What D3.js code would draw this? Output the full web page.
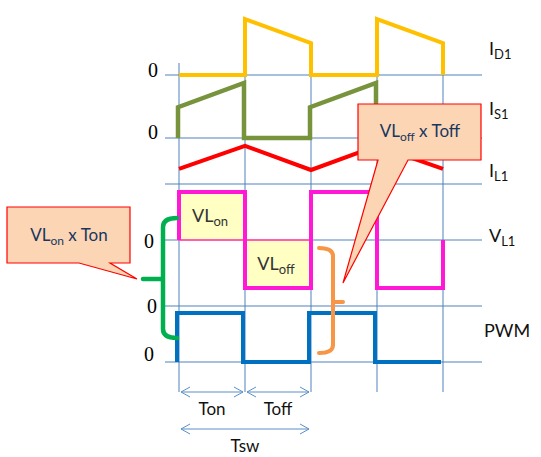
<!DOCTYPE html>
<html>
<head>
<meta charset="utf-8">
<script src="https://cdn.jsdelivr.net/npm/d3@7"></script>
<style>
    body { margin: 0; background: #fff; }
    text { font-family: Lato, "Noto Sans", sans-serif; }
</style>
</head>
<body>
<svg id="chart" width="541" height="457"></svg>
<script>
// Data ---------------------------------------------------------------
// time in half periods (0 -> 4 = two switching periods)
let gridTimes = [0, 1, 2, 3, 4];

// waveforms as [time, normalised level]
let id1Data = [[0, 0], [1, 0], [1, 1], [2, 0.57], [2, 0], [3, 0], [3, 1], [4, 0.57], [4, 0]];
let is1Data = [[0, 0], [0, 0.56], [1, 1], [1, 0], [2, 0], [2, 0.56], [3, 1], [3, 0], [4, 0]];
let il1Data = [[0, 0.27], [1, 0.68], [2, 0.25], [3, 0.68], [4, 0.27]];
let vl1Data = [[0, 0], [0, 1], [1, 1], [1, -1], [2, -1], [2, 1], [3, 1], [3, -1], [4, -1], [4, 0]];
let pwmData = [[0, 0], [0, 1], [1, 1], [1, 0], [2, 0], [2, 1], [3, 1], [3, 0], [4, 0]];

let traceNames = [["I", "D1"], ["I", "S1"], ["I", "L1"], ["V", "L1"], ["PWM", ""]];
let zeroLabels = ["0", "0", "0", "0", "0"];

// VL areas (time from, time to, level from, level to)
let vlAreas = [[0, 1, 0, 1, "on"], [1, 2, -1, 0, "off"]];
// time spans under the chart
let spanNames = ["Ton", "Toff", "Tsw"];
let spanTimes = [[0, 1], [1, 2], [0, 2]];
let calloutTexts = [["VL", "on", " x Ton"], ["VL", "off", " x Toff"]];

// Layout -------------------------------------------------------------
let svg = d3.select("#chart");
let x = d3.scaleLinear().domain([0, 4]).range([179, 443]);

// each trace gets its own zero line and amplitude
let traces = [
    { data: id1Data, color: "#ffc000", zero: 75, amp: 56, width: 4, labelY: 55, dx: 0 },
    { data: is1Data, color: "#77933c", zero: 138, amp: 55, width: 4.5, labelY: 115, dx: -1 },
    { data: il1Data, color: "#ff0000", zero: 184, amp: 56, width: 4, labelY: 177, dx: 0 },
    { data: vl1Data, color: "#ff19d6", zero: 240, amp: 48, width: 4, labelY: 242, dx: 0 },
    { data: pwmData, color: "#0070c0", zero: 362, amp: 49, width: 4, labelY: 337, dx: -2 }
];
traces.forEach(t => {
    t.y = d3.scaleLinear().domain([0, 1]).range([t.zero, t.zero - t.amp]);
});

let rowLines = [75, 138, 184, 240, 306, 362];
let zeroPos = [[153, 77], [153, 139], [149, 248], [152, 313], [149, 361]];
let gridColor = "#4f81bd";

// Grid ---
svg.append("g").selectAll("line")
    .data(gridTimes)
    .enter().append("line")
    .attr("x1", d => x(d)).attr("x2", d => x(d))
    .attr("y1", 63).attr("y2", 392)
    .attr("stroke", gridColor).attr("stroke-width", 1);

svg.append("g").selectAll("line")
    .data(rowLines)
    .enter().append("line")
    .attr("x1", 165).attr("x2", 482)
    .attr("y1", d => d).attr("y2", d => d)
    .attr("stroke", gridColor).attr("stroke-width", 1);

// Zero labels
svg.append("g").selectAll("text")
    .data(zeroLabels)
    .enter().append("text")
    .attr("x", (d, i) => zeroPos[i][0])
    .attr("y", (d, i) => zeroPos[i][1])
    .attr("text-anchor", "middle")
    .style("font-family", "'Liberation Serif', serif")
    .style("font-size", "20px")
    .text(d => d);

// VL boxes ---
let vl = traces[3];
let boxes = svg.append("g");
boxes.selectAll("rect")
    .data(vlAreas)
    .enter().append("rect")
    .attr("x", d => x(d[0]))
    .attr("y", d => vl.y(d[3]))
    .attr("width", d => x(d[1]) - x(d[0]))
    .attr("height", d => vl.y(d[2]) - vl.y(d[3]))
    .attr("fill", "#ffffc4")
    .attr("stroke", "#ff5faf")
    .attr("stroke-width", 2);

let boxText = boxes.selectAll("text")
    .data(vlAreas)
    .enter().append("text")
    .attr("x", d => (x(d[0]) + x(d[1])) / 2 - 2)
    .attr("y", d => (vl.y(d[2]) + vl.y(d[3])) / 2 + 6)
    .attr("text-anchor", "middle")
    .attr("fill", "#333")
    .style("font-size", "18px");
boxText.append("tspan").text("VL");
boxText.append("tspan").attr("dy", 4).style("font-size", "13px").text(d => d[4]);

// Waveforms ---
svg.append("g").selectAll("path")
    .data(traces)
    .enter().append("path")
    .attr("fill", "none")
    .attr("stroke", d => d.color)
    .attr("stroke-width", d => d.width)
    .attr("stroke-linejoin", "miter")
    .attr("d", t => d3.line().x(p => x(p[0]) + t.dx).y(p => t.y(p[1]))(t.data));

// Trace names on the right
let names = svg.append("g").selectAll("text")
    .data(traceNames)
    .enter().append("text")
    .attr("x", (d, i) => i == 4 ? 484 : 489)
    .attr("y", (d, i) => traces[i].labelY)
    .attr("fill", "#111")
    .style("font-size", "18px");
names.append("tspan").text(d => d[0]);
names.append("tspan").attr("dy", 4).style("font-size", "13px").text(d => d[1]);

// Braces ---
svg.append("path")
    .attr("d", "M177,218 Q163,218 163,227 V329 Q163,338 177,338 M143,279 H163")
    .attr("fill", "none").attr("stroke", "#00b050")
    .attr("stroke-width", 4.5).attr("stroke-linecap", "round");

svg.append("path")
    .attr("d", "M319,248 Q333,248 333,256 V345 Q333,353 319,353 M333,302 H343")
    .attr("fill", "none").attr("stroke", "#f79646")
    .attr("stroke-width", 4).attr("stroke-linecap", "round");

// Time spans ---
let spanY = [392, 392, 429];
let spans = svg.append("g");
spanTimes.forEach(function (s, i) {
    let x0 = x(s[0]) + 2, x1 = x(s[1]) - 2, y = spanY[i];
    spans.append("path")
        .attr("d", "M" + x0 + "," + y + "H" + x1 +
            "M" + (x0 + 9) + "," + (y - 5) + "L" + x0 + "," + y + "L" + (x0 + 9) + "," + (y + 5) +
            "M" + (x1 - 9) + "," + (y - 5) + "L" + x1 + "," + y + "L" + (x1 - 9) + "," + (y + 5))
        .attr("fill", "none")
        .attr("stroke", "#5b8fc7")
        .attr("stroke-width", 1);
    spans.append("text")
        .attr("x", (x(s[0]) + x(s[1])) / 2)
        .attr("y", y + 23)
        .attr("text-anchor", "middle")
        .attr("fill", "#111")
        .style("font-size", "17px")
        .text(spanNames[i]);
});

// Callouts ---
let callouts = [
    { path: "M7,207 H130 V263 H110 L137,279 L79,263 H7 Z", cx: 69, cy: 241 },
    { path: "M358,104 H481 V160 H408 L343,283 L378,160 H358 Z", cx: 420, cy: 137 }
];
callouts.forEach(function (c, i) {
    svg.append("path")
        .attr("d", c.path)
        .attr("fill", "#fcd5b5")
        .attr("stroke", "#ff0000")
        .attr("stroke-width", 1.2);
    let t = svg.append("text")
        .attr("x", c.cx).attr("y", c.cy)
        .attr("text-anchor", "middle")
        .attr("fill", "#17375e")
        .style("font-size", "17px");
    t.append("tspan").text(calloutTexts[i][0]);
    t.append("tspan").attr("dy", 4).style("font-size", "12px").text(calloutTexts[i][1]);
    t.append("tspan").attr("dy", -4).text(calloutTexts[i][2]);
});
</script>
</body>
</html>
